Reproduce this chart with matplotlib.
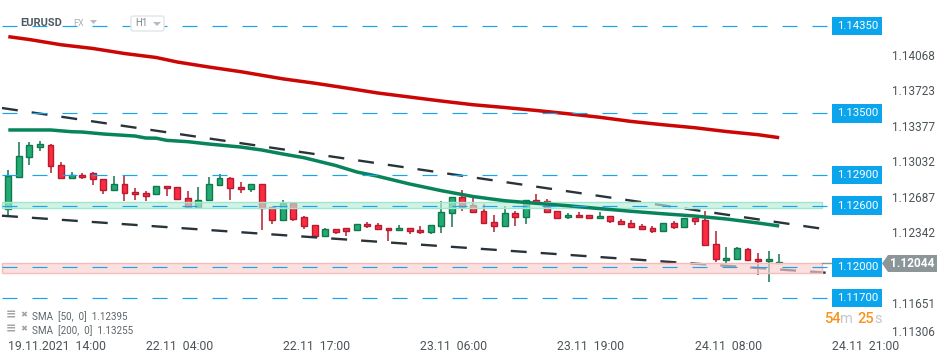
# EURUSD H1 candles with SMAs, channel and levels
import numpy as np
import matplotlib
matplotlib.use('Agg')
import matplotlib.pyplot as plt
from matplotlib.patches import Rectangle, Polygon, FancyBboxPatch
from matplotlib.transforms import Affine2D

plt.rcParams['font.family'] = ['Roboto', 'DejaVu Sans']
plt.rcParams['lines.scale_dashes'] = False

opens = [1.12567, 1.12876, 1.13071, 1.13174, 1.13188, 1.12993, 1.12867, 1.12896, 1.12915, 1.12857,
         1.12750, 1.12808, 1.12730, 1.12720, 1.12710, 1.12788, 1.12779, 1.12672, 1.12590, 1.12652,
         1.12798, 1.12867, 1.12779, 1.12759, 1.12808, 1.12584, 1.12457, 1.12623, 1.12486, 1.12408,
         1.12307, 1.12369, 1.12379, 1.12360, 1.12418, 1.12408, 1.12379, 1.12360, 1.12379, 1.12360,
         1.12340, 1.12399, 1.12525, 1.12681, 1.12603, 1.12545, 1.12438, 1.12399, 1.12525, 1.12486,
         1.12652, 1.12645, 1.12545, 1.12486, 1.12506, 1.12506, 1.12477, 1.12496, 1.12447, 1.12428,
         1.12399, 1.12379, 1.12350, 1.12428, 1.12389, 1.12477, 1.12457, 1.12224, 1.12068, 1.12077,
         1.12175, 1.12077, 1.12058, 1.12038]
highs = [1.12947, 1.13220, 1.13220, 1.13230, 1.13201, 1.13025, 1.12928, 1.12918, 1.12928, 1.12857,
         1.12889, 1.12899, 1.12769, 1.12743, 1.12788, 1.12788, 1.12779, 1.12743, 1.12779, 1.12876,
         1.12906, 1.12876, 1.12830, 1.12808, 1.12808, 1.12584, 1.12655, 1.12626, 1.12499, 1.12408,
         1.12379, 1.12369, 1.12379, 1.12418, 1.12438, 1.12428, 1.12379, 1.12408, 1.12379, 1.12399,
         1.12408, 1.12642, 1.12681, 1.12752, 1.12672, 1.12616, 1.12506, 1.12594, 1.12545, 1.12652,
         1.12713, 1.12665, 1.12545, 1.12525, 1.12535, 1.12506, 1.12535, 1.12496, 1.12467, 1.12457,
         1.12418, 1.12399, 1.12428, 1.12447, 1.12477, 1.12477, 1.12545, 1.12350, 1.12194, 1.12194,
         1.12185, 1.12136, 1.12155, 1.12126]
lows = [1.12499, 1.12876, 1.12996, 1.13135, 1.12921, 1.12867, 1.12867, 1.12857, 1.12804, 1.12716,
        1.12750, 1.12648, 1.12658, 1.12648, 1.12710, 1.12697, 1.12662, 1.12590, 1.12590, 1.12652,
        1.12788, 1.12658, 1.12726, 1.12736, 1.12366, 1.12424, 1.12457, 1.12453, 1.12375, 1.12307,
        1.12307, 1.12327, 1.12307, 1.12360, 1.12382, 1.12369, 1.12259, 1.12360, 1.12327, 1.12321,
        1.12327, 1.12336, 1.12395, 1.12551, 1.12535, 1.12428, 1.12346, 1.12399, 1.12402, 1.12424,
        1.12623, 1.12535, 1.12467, 1.12467, 1.12486, 1.12477, 1.12467, 1.12428, 1.12418, 1.12389,
        1.12360, 1.12330, 1.12340, 1.12369, 1.12389, 1.12408, 1.12204, 1.12054, 1.12044, 1.12077,
        1.12058, 1.11921, 1.11859, 1.12029]
closes = [1.12889, 1.13081, 1.13188, 1.13198, 1.12983, 1.12867, 1.12902, 1.12876, 1.12857, 1.12750,
          1.12808, 1.12720, 1.12710, 1.12697, 1.12788, 1.12769, 1.12662, 1.12590, 1.12652, 1.12808,
          1.12867, 1.12769, 1.12759, 1.12808, 1.12580, 1.12457, 1.12623, 1.12473, 1.12399, 1.12307,
          1.12369, 1.12346, 1.12356, 1.12418, 1.12399, 1.12369, 1.12360, 1.12379, 1.12350, 1.12340,
          1.12408, 1.12535, 1.12681, 1.12584, 1.12535, 1.12428, 1.12399, 1.12525, 1.12486, 1.12652,
          1.12623, 1.12535, 1.12477, 1.12506, 1.12486, 1.12477, 1.12496, 1.12447, 1.12418, 1.12389,
          1.12369, 1.12350, 1.12428, 1.12389, 1.12477, 1.12447, 1.12214, 1.12077, 1.12087, 1.12185,
          1.12068, 1.12058, 1.12077, 1.12048]

sma200_bars = [0, 2, 5, 8, 11, 14, 16, 19, 22, 26, 29, 32, 35, 38, 41, 44, 47, 50, 53, 56, 59, 62, 65, 68, 71, 73]
sma200 = [1.14246, 1.14218, 1.14167, 1.14131, 1.14082, 1.14043, 1.13999, 1.13950, 1.13905,
          1.13835, 1.13793, 1.13746, 1.13697, 1.13658, 1.13619, 1.13583, 1.13556, 1.13527,
          1.13495, 1.13461, 1.13420, 1.13388, 1.13359, 1.13322, 1.13291, 1.13262]
sma50_bars = [0, 4, 6, 7, 9, 12, 13, 14, 15, 17, 19, 22, 24, 26, 28, 31, 33, 35, 38, 41, 44, 47, 50, 53, 56, 59, 62, 65, 68, 71, 73]
sma50 = [1.13337, 1.13337, 1.13320, 1.13317, 1.13298, 1.13278, 1.13259, 1.13257, 1.13236,
         1.13223, 1.13200, 1.13171, 1.13142, 1.13103, 1.13067, 1.12991, 1.12928, 1.12886,
         1.12811, 1.12746, 1.12689, 1.12648, 1.12623, 1.12599, 1.12571, 1.12545, 1.12521,
         1.12499, 1.12470, 1.12431, 1.12402]

upper_bars = [-0.6, 76.8]
channel_upper = [1.13551, 1.12379]
lower_bars = [-0.6, 77.4]
channel_lower = [1.12502, 1.11947]

levels = [1.14350, 1.13500, 1.12900, 1.12600, 1.12000, 1.11700]
level_labels = ['1.14350', '1.13500', '1.12900', '1.12600', '1.12000', '1.11700']
price_ticks = [1.14068, 1.13723, 1.13377, 1.13032, 1.12687, 1.12342, 1.11651, 1.11306]
time_bars = [0, 13, 26, 39, 52, 65, 78]
time_labels = ['19.11.2021  14:00', '22.11  04:00', '22.11  17:00', '23.11  06:00',
               '23.11  19:00', '24.11  08:00', '24.11  21:00']
green_zone = [1.12574, 1.12631]
red_zone = [1.11941, 1.12037]
last_price = 1.12044

fig = plt.figure(figsize=(9.5, 3.64), dpi=100)
ax = fig.add_axes([0, 25.5 / 364, 885 / 950, 338.5 / 364])
ax.set_xlim(-0.786, 83.02)
ax.set_ylim(1.11306, 1.14603)

# candles
x = np.arange(len(opens))
o = np.array(opens)
c = np.array(closes)
up = c >= o
body_col = np.where(up, '#22ab72', '#fb2b40')
edge_col = np.where(up, '#10774f', '#b51c2f')
ax.vlines(x, lows, highs, colors=edge_col, lw=1.1, zorder=2)
ax.bar(x, np.abs(c - o), bottom=np.minimum(o, c), width=0.56, color=body_col,
       edgecolor=edge_col, linewidth=1.0, zorder=3)

# channel
ax.plot(upper_bars, channel_upper, color='#29343a', lw=1.7, ls=(0, (11.5, 10.1)), zorder=4)
ax.plot(lower_bars, channel_lower, color='#29343a', lw=1.7, ls=(0, (11.5, 10.1)), zorder=4)

# zones over the candles
zone_x0, zone_x1 = -0.6, 77.1
ax.add_patch(Rectangle((zone_x0, green_zone[0]), zone_x1 - zone_x0, green_zone[1] - green_zone[0],
                       facecolor=(0.72, 0.93, 0.85, 0.65), edgecolor='#9fe8cf', lw=1, zorder=5))
ax.add_patch(Rectangle((zone_x0, red_zone[0]), zone_x1 - zone_x0, red_zone[1] - red_zone[0],
                       facecolor=(0.985, 0.815, 0.815, 0.65), edgecolor='#f6bcbc', lw=1, zorder=5))

# moving averages
ax.plot(sma200_bars, sma200, color='#cc0505', lw=2.5, zorder=6, solid_capstyle='butt')
ax.plot(sma50_bars, sma50, color='#08845a', lw=2.5, zorder=6, solid_capstyle='butt')

# levels
for lev, lab in zip(levels, level_labels):
  ax.plot([-0.6, 78.1], [lev, lev], color='#1aa5ea', lw=0.85, ls=(0, (10.8, 10.8)), zorder=6)
  ax.text(80.4, lev, lab, color='white', fontsize=8.2, ha='center', va='center', zorder=9,
          bbox=dict(boxstyle='square,pad=0.38', fc='#0ba5ee', ec='none'))
ax.plot([77.1, 78.2], [last_price, last_price], color='#8d9698', lw=1, zorder=7)

# axes
for s in ax.spines.values():
  s.set_visible(False)
ax.patch.set_alpha(0)
ax.yaxis.tick_right()
ax.set_yticks(price_ticks)
ax.set_yticklabels(['%.5f' % p for p in price_ticks])
ax.tick_params(axis='y', length=0, pad=5, labelsize=8.5, labelcolor='#4c5458')
ax.get_yticklabels()[-1].set_va('bottom')
ax.set_xticks(time_bars)
ax.set_xticklabels(time_labels, ha='left')
ax.tick_params(axis='x', length=0, pad=1, labelsize=8.8, labelcolor='#4c5458')

# screen furniture, in pixels from the top left
pix = Affine2D().scale(1, -1).translate(0, 364)
fig.add_artist(Polygon([(882, 263.5), (888, 255), (937, 255), (937, 272), (888, 272)],
                       closed=True, fc='#8c9597', ec='none', transform=pix))
fig.text(890 / 950, 1 - 263.5 / 364, '1.12044', color='white', fontsize=8.6, fontweight='bold', va='center')

fig.text(20 / 950, 1 - 23 / 364, 'EURUSD', color='#4d5a62', fontsize=8, fontweight='bold', va='center')
fig.text(73 / 950, 1 - 24 / 364, 'FX', color='#a9b0b4', fontsize=6.5, va='center')
fig.add_artist(Polygon([(90, 20), (97, 20), (93.5, 24)], closed=True, fc='#b4babd', ec='none', transform=pix))
fig.add_artist(FancyBboxPatch((131, 16), 33, 15, boxstyle='round,pad=0,rounding_size=2',
                              fc='white', ec='#e2e5e7', lw=1, transform=pix))
fig.text(135 / 950, 1 - 23.5 / 364, 'H1', color='#7d868b', fontsize=7, va='center')
fig.add_artist(Polygon([(153, 22), (161, 22), (157, 26)], closed=True, fc='#b4babd', ec='none', transform=pix))

for yy, lab in ((317, 'SMA  [50,  0]  1.12395'), (331, 'SMA  [200,  0]  1.13255')):
  fig.text(6 / 950, 1 - (yy - 2) / 364, '≡', color='#a0a5a8', fontsize=9, fontweight='bold', va='center')
  fig.text(20 / 950, 1 - (yy - 2) / 364, '✖', color='#a0a5a8', fontsize=6, va='center')
  fig.text(32 / 950, 1 - yy / 364, lab, color='#5d6569', fontsize=7.1, va='center')

fig.text(824 / 950, 1 - 319 / 364, '54', color='#f7941d', fontsize=10.5, fontweight='medium', va='center')
fig.text(840 / 950, 1 - 319 / 364, 'm', color='#c4c8ca', fontsize=10.5, va='center')
fig.text(857 / 950, 1 - 319 / 364, '25', color='#f7941d', fontsize=10.5, fontweight='medium', va='center')
fig.text(874 / 950, 1 - 319 / 364, 's', color='#c4c8ca', fontsize=10.5, va='center')

fig.savefig('out.png', dpi=100)
